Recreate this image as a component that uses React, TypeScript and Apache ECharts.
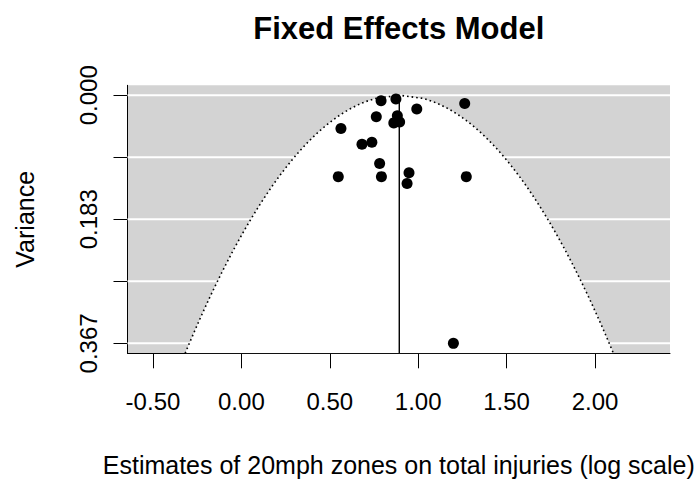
import React, { useEffect, useRef } from "react";
import * as echarts from "echarts";

// Study estimates (log scale) and their sampling variances
const estimates = [0.790, 0.874, 0.992, 1.263, 0.763, 0.882, 0.862, 0.895, 0.563, 0.682, 0.738, 0.782, 0.548, 0.792, 0.948, 0.937, 1.272, 1.199];
const variances = [0.0081, 0.0056, 0.0204, 0.0122, 0.0317, 0.0305, 0.0409, 0.0396, 0.0491, 0.0725, 0.0695, 0.1011, 0.1204, 0.1204, 0.1147, 0.1306, 0.1204, 0.367];

// Fixed-effects pooled estimate and pseudo-confidence multiplier
const pooledEstimate = 0.893;
const zCrit = 1.96;

// Axes
const xTicks = [-0.5, 0, 0.5, 1, 1.5, 2];
const xRange = [-0.644, 2.424];
const yTicks = [0, 0.09175, 0.1835, 0.27525, 0.367];
const yLabelValues = [0, 0.1835, 0.367];
const yLabelTexts = ["0.000", "0.183", "0.367"];
const yRange = [-0.01468, 0.38168];

const titleText = "Fixed Effects Model";
const xTitle = "Estimates of 20mph zones on total injuries (log scale)";
const yTitle = "Variance";

const FONT = "'Liberation Sans', Arial, sans-serif";

export default function App() {
  const ref = useRef<HTMLDivElement>(null);
  useEffect(() => {
    if (!ref.current) return;
    const chart = echarts.init(ref.current, undefined, { renderer: "svg" });
    const gridLeft = 127.5;
    const gridTop = 85.3;
    const gridWidth = 542.5;
    const gridHeight = 268;
    const cx = gridLeft + gridWidth / 2;
    chart.setOption({
      animation: false,
      backgroundColor: "#ffffff",
      grid: {
        left: gridLeft,
        top: gridTop,
        width: gridWidth,
        height: gridHeight,
        show: true,
        backgroundColor: "#d3d3d3",
        borderWidth: 0,
      },
      xAxis: {
        type: "value",
        min: xRange[0],
        max: xRange[1],
        axisLine: { show: true, onZero: false, lineStyle: { color: "#000", width: 1 } },
        axisTick: { show: true, customValues: xTicks, length: 15, lineStyle: { color: "#000", width: 1 } },
        axisLabel: {
          customValues: xTicks,
          formatter: (v: number) => v.toFixed(2),
          fontSize: 24,
          fontFamily: FONT,
          color: "#000",
          margin: 36,
        },
        splitLine: { show: false },
      },
      yAxis: {
        type: "value",
        inverse: true,
        min: yRange[0],
        max: yRange[1],
        axisLine: { show: true, onZero: false, lineStyle: { color: "#000", width: 1 } },
        axisTick: { show: true, customValues: yTicks, length: 14, lineStyle: { color: "#000", width: 1 } },
        axisLabel: {
          customValues: yLabelValues,
          formatter: (v: number) => {
            let best = 0;
            yLabelValues.forEach((lv, i) => {
              if (Math.abs(lv - v) < Math.abs(yLabelValues[best] - v)) best = i;
            });
            return yLabelTexts[best];
          },
          rotate: 90,
          fontSize: 24,
          fontFamily: FONT,
          color: "#000",
          margin: 27,
        },
        splitLine: { show: false },
      },
      graphic: [
        {
          type: "text",
          x: cx,
          y: 28,
          style: {
            text: titleText,
            font: `bold 31px ${FONT}`,
            fill: "#000",
            align: "center",
            verticalAlign: "middle",
          },
        },
        {
          type: "text",
          x: cx,
          y: 465,
          style: {
            text: xTitle,
            font: `25px ${FONT}`,
            fill: "#000",
            align: "center",
            verticalAlign: "middle",
          },
        },
        {
          type: "text",
          x: 25,
          y: gridTop + gridHeight / 2,
          rotation: Math.PI / 2,
          style: {
            text: yTitle,
            font: `25px ${FONT}`,
            fill: "#000",
            align: "center",
            verticalAlign: "middle",
          },
        },
      ],
      series: [
        {
          type: "custom",
          z: 1,
          silent: true,
          clip: true,
          data: [[pooledEstimate, 0]],
          renderItem: (_params: any, api: any) => {
            const children: any[] = [];
            yTicks.forEach((v) => {
              const a = api.coord([xRange[0], v]);
              const b = api.coord([xRange[1], v]);
              children.push({
                type: "line",
                shape: { x1: a[0], y1: a[1], x2: b[0], y2: b[1] },
                style: { stroke: "#ffffff", lineWidth: 2 },
              });
            });
            const n = 80;
            const left: number[][] = [];
            const right: number[][] = [];
            for (let i = 0; i <= n; i++) {
              const v = (yRange[1] * i) / n;
              const hw = zCrit * Math.sqrt(v);
              left.push(api.coord([pooledEstimate - hw, v]));
              right.push(api.coord([pooledEstimate + hw, v]));
            }
            const poly = left.slice().reverse().concat(right);
            children.push({
              type: "polygon",
              shape: { points: poly },
              style: { fill: "#ffffff", stroke: "none" },
            });
            children.push({
              type: "polyline",
              shape: { points: poly },
              style: { fill: "none", stroke: "#000", lineWidth: 1.6, lineDash: [1.6, 3] },
            });
            const t = api.coord([pooledEstimate, 0]);
            const bt = api.coord([pooledEstimate, yRange[1]]);
            children.push({
              type: "line",
              shape: { x1: t[0], y1: t[1], x2: bt[0], y2: bt[1] },
              style: { stroke: "#000", lineWidth: 1.4 },
            });
            return { type: "group", children };
          },
        },
        {
          type: "scatter",
          z: 3,
          symbol: "circle",
          symbolSize: 11,
          itemStyle: { color: "#000", opacity: 1 },
          data: estimates.map((e, i) => [e, variances[i]]),
        },
      ],
    });
    return () => chart.dispose();
  }, []);
  return (
    <div
      ref={ref}
      style={{ position: "fixed", left: 0, top: 0, width: 694, height: 479 }}
    />
  );
}
